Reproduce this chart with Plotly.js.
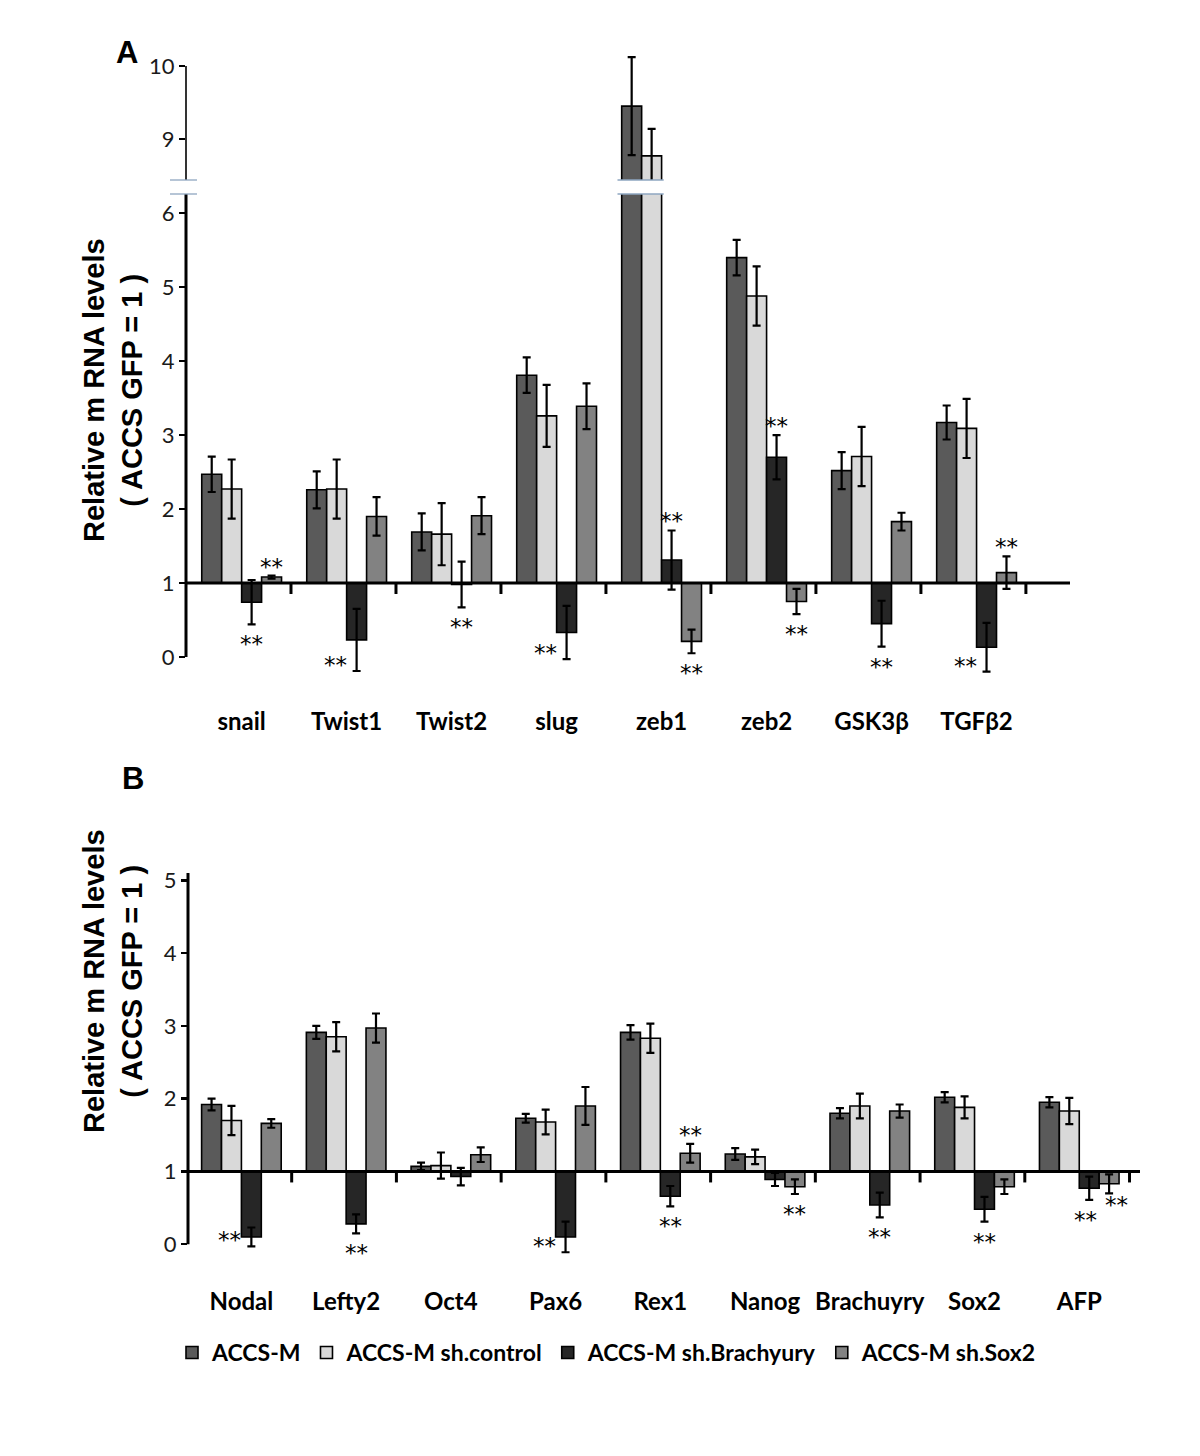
<!DOCTYPE html>
<html><head><meta charset="utf-8">
<script src="https://cdn.plot.ly/plotly-3.0.1.min.js"></script>
<style>html,body{margin:0;padding:0;background:#fff}</style>
</head><body><div id="chart" style="width:1200px;height:1456px"></div>
<script>
// ---------- DATA ----------
const seriesNames = ['ACCS-M', 'ACCS-M sh.control', 'ACCS-M sh.Brachyury', 'ACCS-M sh.Sox2'];

// Panel A
const genesA = ['snail', 'Twist1', 'Twist2', 'slug', 'zeb1', 'zeb2', 'GSK3β', 'TGFβ2'];
const accsM_A = [2.47, 2.26, 1.69, 3.81, 9.45, 5.40, 2.52, 3.17];
const accsM_A_err = [0.24, 0.25, 0.25, 0.24, 0.67, 0.24, 0.25, 0.23];
const control_A = [2.27, 2.27, 1.66, 3.26, 8.77, 4.88, 2.71, 3.09];
const control_A_err = [0.40, 0.40, 0.42, 0.42, 0.37, 0.40, 0.40, 0.40];
const brachyury_A = [0.74, 0.23, 0.98, 0.33, 1.31, 2.70, 0.45, 0.13];
const brachyury_A_err = [0.30, 0.42, 0.31, 0.36, 0.40, 0.30, 0.31, 0.33];
const sox2_A = [1.08, 1.90, 1.91, 3.39, 0.21, 0.75, 1.83, 1.14];
const sox2_A_err = [0.02, 0.26, 0.25, 0.31, 0.16, 0.17, 0.12, 0.22];
const sigBrachyury_A = ['**', '**', '**', '**', '**', '**', '**', '**'];
const sigSox2_A = ['**', '', '', '', '**', '**', '', '**'];

// Panel B
const genesB = ['Nodal', 'Lefty2', 'Oct4', 'Pax6', 'Rex1', 'Nanog', 'Brachuyry', 'Sox2', 'AFP'];
const accsM_B = [1.92, 2.91, 1.07, 1.73, 2.91, 1.24, 1.80, 2.02, 1.95];
const accsM_B_err = [0.08, 0.09, 0.05, 0.06, 0.10, 0.08, 0.07, 0.07, 0.07];
const control_B = [1.70, 2.85, 1.08, 1.68, 2.83, 1.20, 1.90, 1.88, 1.83];
const control_B_err = [0.20, 0.20, 0.18, 0.17, 0.20, 0.10, 0.17, 0.15, 0.18];
const brachyury_B = [0.10, 0.28, 0.93, 0.10, 0.66, 0.89, 0.54, 0.48, 0.77];
const brachyury_B_err = [0.13, 0.13, 0.12, 0.21, 0.14, 0.09, 0.17, 0.17, 0.16];
const sox2_B = [1.66, 2.97, 1.23, 1.90, 1.25, 0.79, 1.83, 0.79, 0.83];
const sox2_B_err = [0.06, 0.20, 0.10, 0.26, 0.13, 0.10, 0.09, 0.10, 0.13];
const sigBrachyury_B = ['**', '**', '', '**', '**', '', '**', '**', '**'];
const sigSox2_B = ['', '', '', '', '**', '**', '', '', '**'];

const tickValsAUpper = [9, 10];
const tickValsALower = [0, 1, 2, 3, 4, 5, 6];
const tickValsB = [0, 1, 2, 3, 4, 5];
const referenceLevel = 1;

// ---------- STYLE / LAYOUT ----------
const W = 1200, H = 1456;
const pxX = x => x / W, pxY = y => 1 - y / H;
const colors = ['#5a5a5a', '#d9d9d9', '#262626', '#828282'];
const rangeAUpper = [8.44, 10.15], upperTop = 10;
const rangeALower = [-0.65, 6.26];
const rangeB = [-0.56, 5.1];
const bargap = 0.24;
const nS = 4, barW = (1 - bargap) / nS;
const numFont = 'Lato, "Open Sans", sans-serif';
const titleFont = '"Liberation Sans", Arial, sans-serif';
const starFont = '"DejaVu Sans", sans-serif';

function traces(cats, vals, errs, xa, ya, showlegend) {
  return vals.map((v, s) => ({
    type: 'bar', name: seriesNames[s], x: cats,
    y: v.map(d => d - referenceLevel), base: referenceLevel,
    xaxis: xa, yaxis: ya, showlegend: showlegend,
    marker: {color: colors[s], line: {color: '#000', width: 1.6}},
    error_y: {type: 'data', array: errs[s], visible: true, color: '#000', thickness: 2.2, width: 4},
    hoverinfo: 'skip'
  }));
}

const valsA = [accsM_A, control_A, brachyury_A, sox2_A];
const errsA = [accsM_A_err, control_A_err, brachyury_A_err, sox2_A_err];
const valsB = [accsM_B, control_B, brachyury_B, sox2_B];
const errsB = [accsM_B_err, control_B_err, brachyury_B_err, sox2_B_err];

const data = [
  ...traces(genesA, valsA, errsA, 'x', 'y', true),
  ...traces(genesA, valsA, errsA, 'x', 'y2', false),
  ...traces(genesB, valsB, errsB, 'x2', 'y3', false)
];

// significance stars (placement derived from bar direction and error-bar end)
const annotations = [];
function placement(v, e, s) {
  if (v >= referenceLevel) return 'above';
  if (s === 2 && v - e < 0.05) return 'left';
  return 'below';
}
function stars(sigs, vals, errs, xref, yref) {
  // sigs: array of [seriesIndex, sigArray]
  const n = vals[0].length;
  for (let i = 0; i < n; i++) {
    const entries = sigs.filter(([s, sig]) => sig[i]).map(([s, sig]) => ({s, t: sig[i],
      v: vals[s][i], e: errs[s][i], p: placement(vals[s][i], errs[s][i], s)}));
    const belowCount = entries.filter(d => d.p === 'below').length;
    entries.forEach(d => {
      const xc = i + (d.s - (nS - 1) / 2) * barW;
      const base = {text: d.t, xref: xref, yref: yref, showarrow: false, yanchor: 'middle',
        font: {family: starFont, size: 23, color: '#000'}};
      if (d.p === 'above') {
        annotations.push({...base, x: xc, y: d.v + d.e, xanchor: 'center', yshift: 9});
      } else if (d.p === 'left') {
        annotations.push({...base, x: xc, y: d.v - d.e, xanchor: 'right', xshift: -8, yshift: 6});
      } else {
        const spread = belowCount > 1 ? (d.s === 2 ? -4 : 7) : 0;
        const ys = belowCount > 1 && d.s === 3 ? -12 : -20;
        annotations.push({...base, x: xc, y: d.v - d.e, xanchor: 'center', xshift: spread, yshift: ys});
      }
    });
  }
}
stars([[2, sigBrachyury_A], [3, sigSox2_A]], valsA, errsA, 'x', 'y');
stars([[2, sigBrachyury_B], [3, sigSox2_B]], valsB, errsB, 'x2', 'y3');

const ytitle = 'Relative m RNA levels<br>( ACCS GFP = 1 )';
const ytFont = {family: titleFont, size: 29, weight: 'bold', color: '#000'};
annotations.push(
  {text: ytitle, xref: 'paper', yref: 'paper', x: pxX(113), y: pxY(390), textangle: -90,
   showarrow: false, xanchor: 'center', yanchor: 'middle', font: ytFont},
  {text: ytitle, xref: 'paper', yref: 'paper', x: pxX(113), y: pxY(981), textangle: -90,
   showarrow: false, xanchor: 'center', yanchor: 'middle', font: ytFont},
  {text: 'A', xref: 'paper', yref: 'paper', x: pxX(127), y: pxY(53), showarrow: false,
   xanchor: 'center', yanchor: 'middle', font: {family: titleFont, size: 31, weight: 'bold', color: '#000'}},
  {text: 'B', xref: 'paper', yref: 'paper', x: pxX(133), y: pxY(778), showarrow: false,
   xanchor: 'center', yanchor: 'middle', font: {family: titleFont, size: 31, weight: 'bold', color: '#000'}}
);

// shapes: baselines, axis lines, group ticks, break marks
const shapes = [];
const line = (extra) => shapes.push({type: 'line', layer: 'above', line: {color: '#000', width: 3}, ...extra});
line({xref: 'x domain', x0: 0, x1: 1, yref: 'y', y0: referenceLevel, y1: referenceLevel});
line({xref: 'x2 domain', x0: 0, x1: 1, yref: 'y3', y0: referenceLevel, y1: referenceLevel});
line({xref: 'x domain', x0: 0, x1: 0, yref: 'y', y0: 0, y1: rangeALower[1]});
line({xref: 'x domain', x0: 0, x1: 0, yref: 'y2', y0: rangeAUpper[0], y1: upperTop, line: {color: '#000', width: 1.6}});
line({xref: 'x2 domain', x0: 0, x1: 0, yref: 'y3', y0: 0, y1: rangeB[1]});
genesA.forEach((g, i) => line({xref: 'x', x0: i + 0.47, x1: i + 0.47, yref: 'y', ysizemode: 'pixel',
  yanchor: referenceLevel, y0: 0, y1: -11}));
genesB.forEach((g, i) => line({xref: 'x2', x0: i + 0.48, x1: i + 0.48, yref: 'y3', ysizemode: 'pixel',
  yanchor: referenceLevel, y0: 0, y1: -11}));
const brk = {color: '#8ea6c0', width: 1.3};
const zebIdx = genesA.indexOf('zeb1');
shapes.push(
  {type: 'line', layer: 'above', xref: 'paper', x0: pxX(170), x1: pxX(197), yref: 'y2 domain', y0: 0, y1: 0, line: brk},
  {type: 'line', layer: 'above', xref: 'paper', x0: pxX(170), x1: pxX(197), yref: 'y domain', y0: 1, y1: 1, line: brk},
  {type: 'line', layer: 'above', xref: 'x', x0: zebIdx - 0.42, x1: zebIdx + 0.02, yref: 'y2 domain', y0: 0, y1: 0, line: brk},
  {type: 'line', layer: 'above', xref: 'x', x0: zebIdx - 0.42, x1: zebIdx + 0.02, yref: 'y domain', y0: 1, y1: 1, line: brk}
);

const yCommon = {showgrid: false, zeroline: false, showline: false, ticks: 'outside', ticklen: 6,
  tickwidth: 2.5, tickcolor: '#000', tickfont: {family: numFont, size: 22, color: '#1a1a1a'}};
const xCommon = {type: 'category', showgrid: false, zeroline: false, showline: false, ticks: '',
  tickfont: {family: numFont, size: 24, weight: 'bold', color: '#000'}};

const layout = {
  width: W, height: H, margin: {l: 0, r: 0, t: 0, b: 0},
  paper_bgcolor: '#fff', plot_bgcolor: 'rgba(0,0,0,0)',
  barmode: 'group', bargap: bargap, bargroupgap: 0,
  showlegend: true,
  legend: {orientation: 'h', x: pxX(172), xanchor: 'left', y: pxY(1331), yanchor: 'top',
    font: {family: numFont, size: 23, weight: 'bold', color: '#000'}, itemclick: false, itemdoubleclick: false},
  xaxis: {...xCommon, domain: [pxX(186), pxX(1070)], range: [-0.53, genesA.length - 0.11], anchor: 'y'},
  yaxis: {...yCommon, domain: [pxY(705), pxY(194)], range: rangeALower, tickvals: tickValsALower, anchor: 'x'},
  yaxis2: {...yCommon, domain: [pxY(180), pxY(55)], range: rangeAUpper, tickvals: tickValsAUpper, anchor: 'x', tickwidth: 1.6},
  xaxis2: {...xCommon, domain: [pxX(188), pxX(1140)], range: [-0.51, genesB.length - 0.42], anchor: 'y3'},
  yaxis3: {...yCommon, domain: [pxY(1285), pxY(873)], range: rangeB, tickvals: tickValsB, anchor: 'x2'},
  shapes: shapes,
  annotations: annotations
};

Plotly.newPlot('chart', data, layout, {displayModeBar: false, staticPlot: true});
</script>
</body></html>
